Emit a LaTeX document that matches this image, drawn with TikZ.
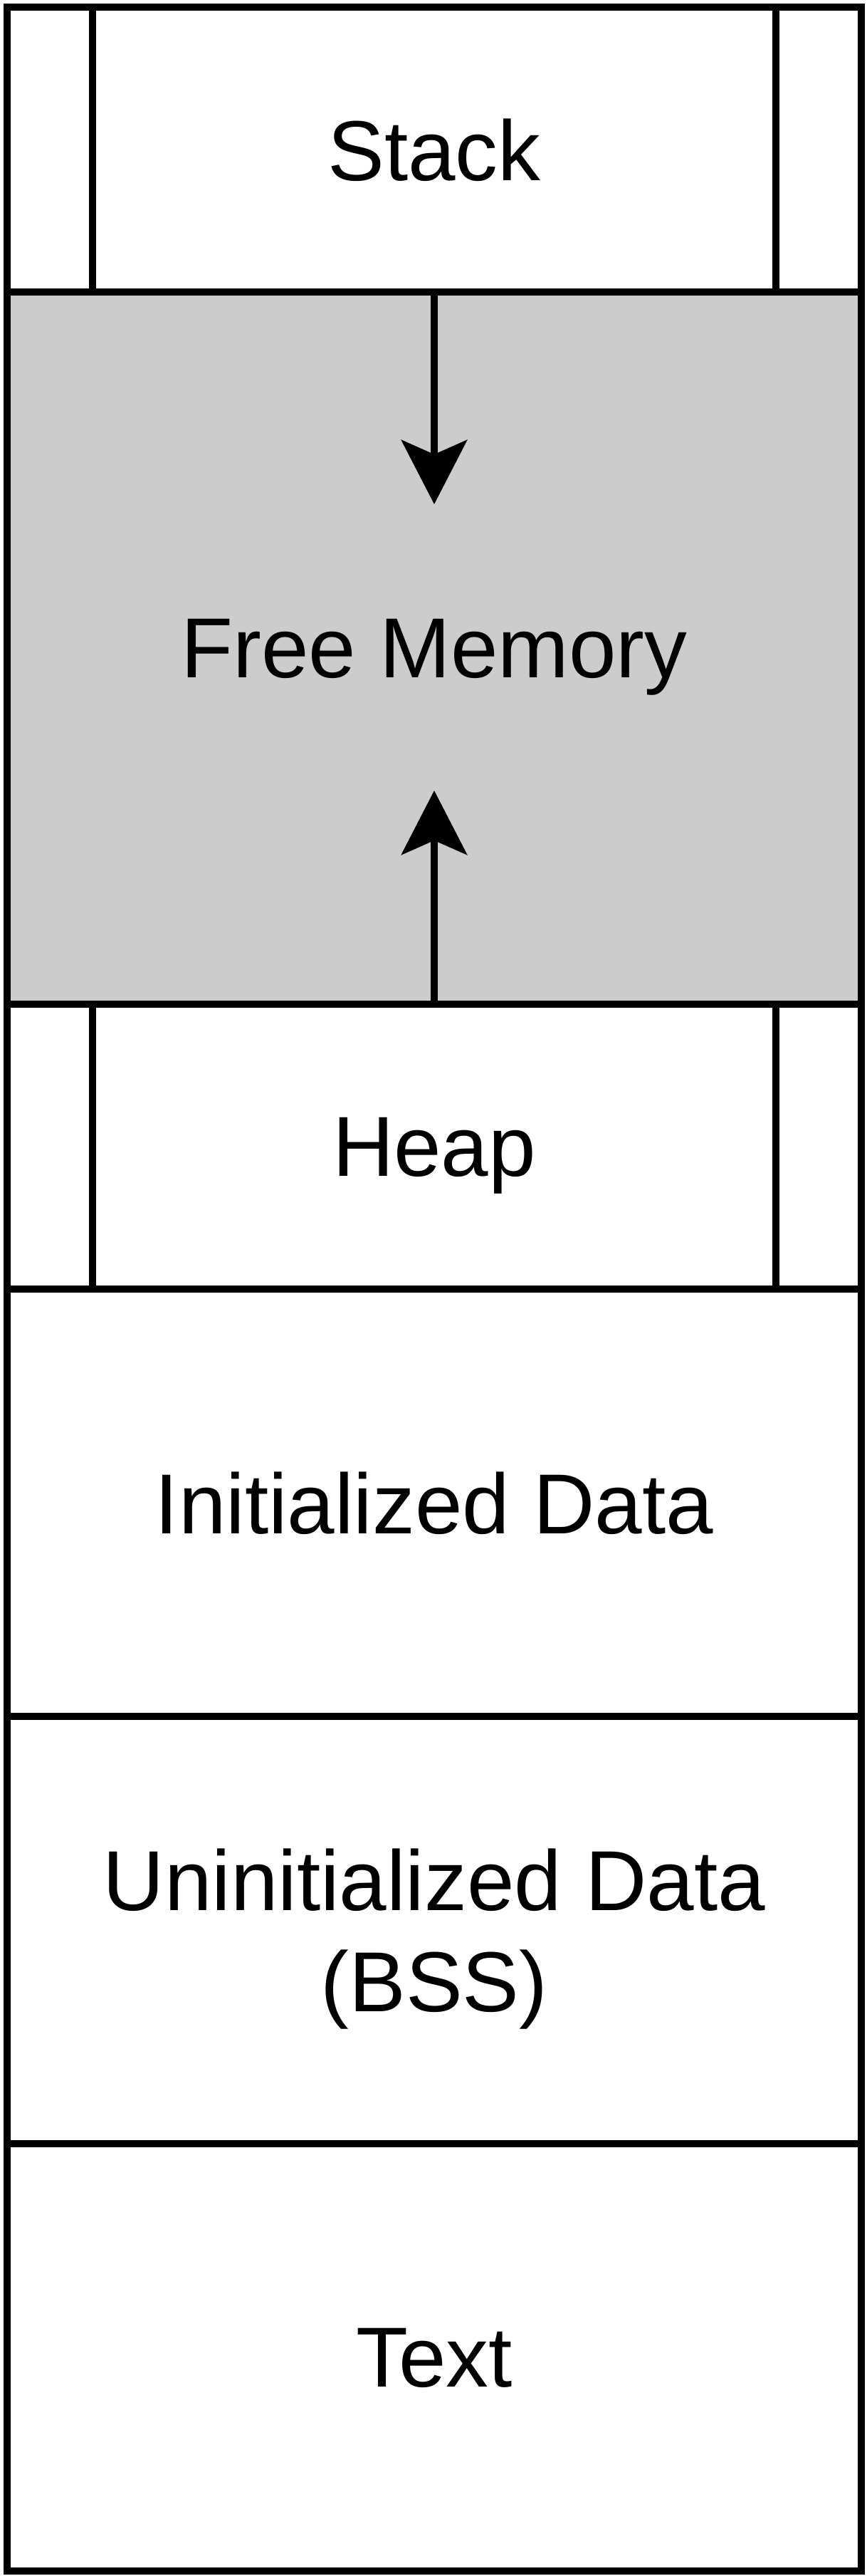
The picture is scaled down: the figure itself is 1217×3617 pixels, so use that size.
\documentclass[tikz,border=0pt]{standalone}
\usepackage{fontspec}
\setmainfont{Liberation Sans}
\usetikzlibrary{arrows.meta}
\definecolor{freegray}{HTML}{CCCCCC}
\begin{document}
\begin{tikzpicture}[x=0.01cm,y=-0.01cm,
  seg/.style={draw=black, line width=0.1cm, rectangle, minimum width=12cm, inner sep=0pt, outer sep=0pt,
    font=\fontsize{34}{40.4}\selectfont, align=center, text=black, text depth=0pt},
  growarrow/.style={line width=0.1cm, -{Stealth[length=0.9cm, width=0.92cm, inset=0.2cm]}}]
\useasboundingbox (0,0) rectangle (1217,3617);
\node[seg, minimum height=4cm] (stack) at (610,210) {Stack};
\node[seg, minimum height=10cm, fill=freegray] (free) at (610,910) {Free Memory};
\node[seg, minimum height=4cm] (heap) at (610,1610) {Heap};
\node[seg, minimum height=6cm] (init) at (610,2110) {Initialized Data};
\node[seg, minimum height=6cm] (bss) at (610,2710) {Uninitialized Data\\(BSS)};
\node[seg, minimum height=6cm] (text) at (610,3310) {Text};
% redraw stack and heap borders over the grey box edges
\draw[line width=0.1cm] (stack.south west) -- (stack.south east);
\draw[line width=0.1cm] (heap.north west) -- (heap.north east);
% inner side lines
\draw[line width=0.1cm] ([xshift=1.2cm]stack.north west) -- ([xshift=1.2cm]stack.south west);
\draw[line width=0.1cm] ([xshift=-1.2cm]stack.north east) -- ([xshift=-1.2cm]stack.south east);
\draw[line width=0.1cm] ([xshift=1.2cm]heap.north west) -- ([xshift=1.2cm]heap.south west);
\draw[line width=0.1cm] ([xshift=-1.2cm]heap.north east) -- ([xshift=-1.2cm]heap.south east);
% arrows
\coordinate (downtip) at (610,708);
\coordinate (uptip) at (610,1110);
\draw[growarrow] (stack.south) -- (downtip);
\draw[growarrow] (heap.north) -- (uptip);
\end{tikzpicture}
\end{document}
